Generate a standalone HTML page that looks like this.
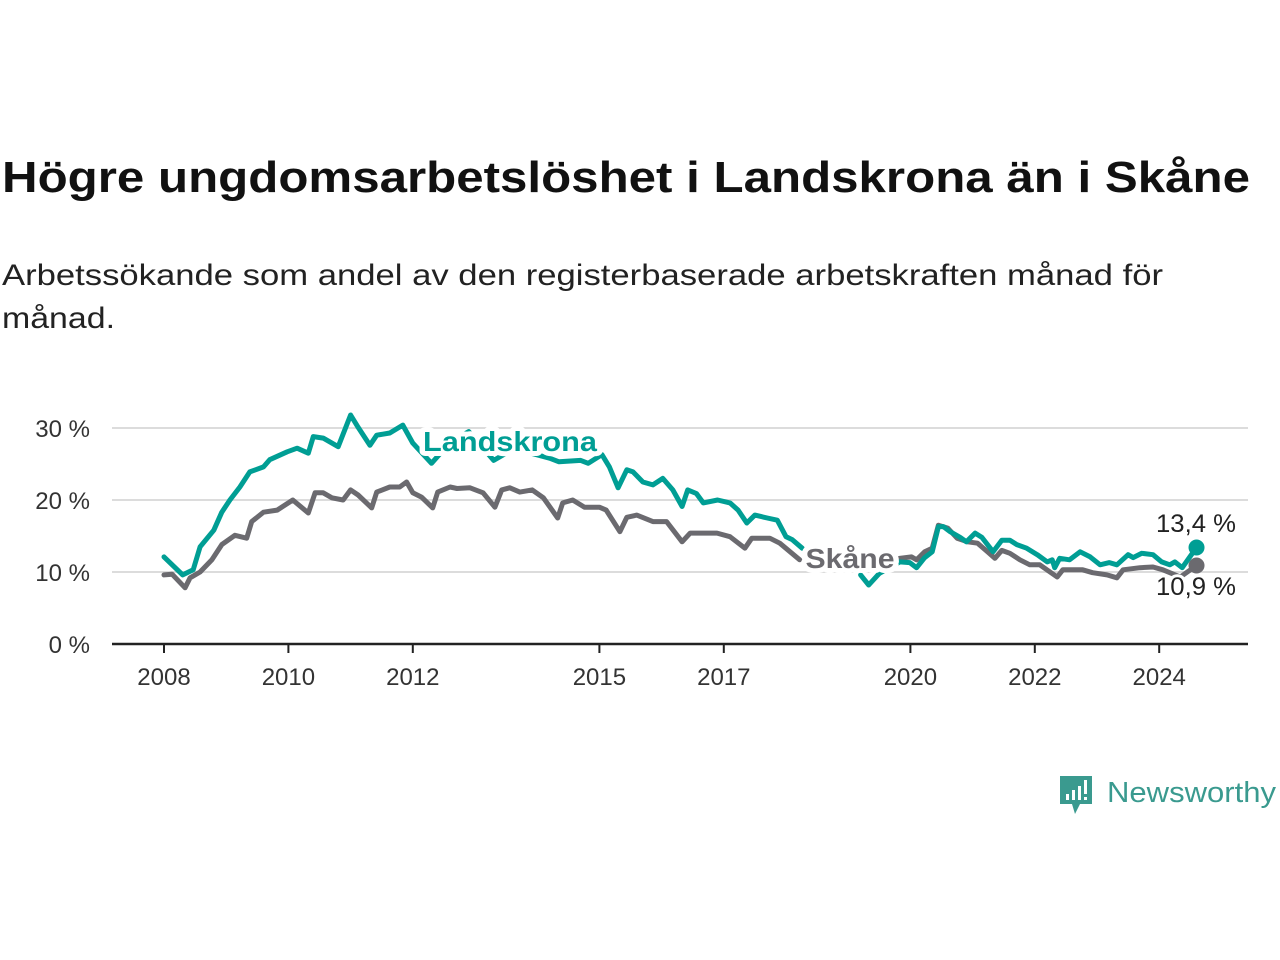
<!DOCTYPE html>
<html><head><meta charset="utf-8">
<style>
html,body{margin:0;padding:0;background:#fff;}
svg{display:block;font-family:"Liberation Sans","DejaVu Sans",sans-serif;}
</style></head>
<body>
<svg id="chart" width="1280" height="960" viewBox="0 0 1280 960">
  <text x="2" y="192" font-size="44" font-weight="bold" fill="#111" textLength="1248" lengthAdjust="spacingAndGlyphs">Högre ungdomsarbetslöshet i Landskrona än i Skåne</text>
  <text x="2" y="285" font-size="30" fill="#222" textLength="1161" lengthAdjust="spacingAndGlyphs">Arbetssökande som andel av den registerbaserade arbetskraften månad för</text>
  <text x="2" y="328" font-size="30" fill="#222" textLength="113" lengthAdjust="spacingAndGlyphs">månad.</text>
  <g id="grid"></g>
  <g id="axes"></g>
  <g id="lines"></g>
  <g id="labels"></g>
  <g>
    <path d="M1060 776 h32 v28 h-12 l-5 10 l-3 -10 h-12 z" fill="#3a9a8f"/>
    <rect x="1066" y="794" width="3" height="6" fill="#fff"/>
    <rect x="1072" y="790" width="3" height="10" fill="#fff"/>
    <rect x="1078" y="786" width="3" height="14" fill="#fff"/>
    <rect x="1084" y="780" width="3" height="14" fill="#fff"/>
    <rect x="1084" y="797" width="3" height="3" fill="#fff"/>
    <text x="1107" y="802" font-size="29" fill="#3a9a8f" textLength="169" lengthAdjust="spacingAndGlyphs">Newsworthy</text>
  </g>
</svg>
<script>
const yTicks = [0, 10, 20, 30];
const yTickLabels = ["0 %", "10 %", "20 %", "30 %"];
const xTicks = [2008, 2010, 2012, 2015, 2017, 2020, 2022, 2024];
const xTickLabels = ["2008", "2010", "2012", "2015", "2017", "2020", "2022", "2024"];

const landskronaYears = [2008.0,2008.3,2008.47,2008.58,2008.8,2008.93,2009.06,2009.22,2009.38,2009.6,2009.7,2009.98,2010.14,2010.32,2010.4,2010.56,2010.8,2011.0,2011.12,2011.31,2011.42,2011.63,2011.84,2012.0,2012.3,2012.6,2012.9,2013.3,2013.6,2013.9,2014.2,2014.35,2014.7,2014.82,2015.04,2015.16,2015.3,2015.44,2015.54,2015.7,2015.86,2016.02,2016.18,2016.33,2016.42,2016.56,2016.67,2016.9,2017.1,2017.23,2017.37,2017.5,2017.7,2017.86,2018.0,2018.1,2018.26,2019.2,2019.33,2019.5,2019.83,2019.99,2020.1,2020.23,2020.35,2020.45,2020.53,2020.64,2020.8,2020.9,2021.04,2021.15,2021.33,2021.47,2021.6,2021.71,2021.87,2022.04,2022.2,2022.28,2022.32,2022.4,2022.56,2022.73,2022.89,2023.05,2023.2,2023.32,2023.5,2023.58,2023.72,2023.9,2024.04,2024.17,2024.25,2024.37,2024.6];
const landskronaValues = [12.1,9.6,10.3,13.5,15.8,18.3,20,21.8,23.9,24.6,25.6,26.7,27.2,26.5,28.8,28.6,27.4,31.8,30.1,27.6,29,29.3,30.4,27.9,25.1,28,29.5,25.5,27,26.5,25.8,25.3,25.5,25.1,26.3,24.6,21.7,24.2,23.9,22.5,22.1,23,21.4,19.1,21.4,20.9,19.6,20,19.6,18.6,16.8,17.9,17.5,17.2,14.9,14.5,13.3,9.6,8.2,9.8,11.4,11.3,10.6,12,12.8,16.3,16.3,15.6,14.8,14.2,15.4,14.8,12.8,14.4,14.4,13.8,13.3,12.4,11.4,11.7,10.6,11.9,11.7,12.8,12.1,11,11.3,11,12.4,12,12.6,12.4,11.4,11,11.4,10.6,13.4];

const skaneYears = [2008.0,2008.13,2008.34,2008.42,2008.58,2008.77,2008.93,2009.14,2009.33,2009.41,2009.6,2009.82,2010.07,2010.32,2010.43,2010.56,2010.7,2010.88,2011.0,2011.12,2011.34,2011.42,2011.63,2011.79,2011.9,2012.0,2012.14,2012.32,2012.4,2012.6,2012.71,2012.92,2013.13,2013.32,2013.43,2013.56,2013.72,2013.92,2014.1,2014.33,2014.41,2014.57,2014.76,2015.0,2015.11,2015.33,2015.44,2015.6,2015.86,2016.08,2016.33,2016.46,2016.67,2016.89,2017.1,2017.34,2017.45,2017.74,2017.9,2018.22,2019.4,2019.83,2020.02,2020.1,2020.23,2020.35,2020.45,2020.6,2020.75,2020.92,2021.08,2021.24,2021.36,2021.47,2021.6,2021.76,2021.92,2022.08,2022.36,2022.45,2022.77,2022.93,2023.16,2023.32,2023.42,2023.69,2023.9,2024.06,2024.34,2024.6];
const skaneValues = [9.6,9.7,7.8,9.2,10,11.7,13.8,15.1,14.7,17,18.3,18.6,20,18.2,21,21,20.3,20,21.4,20.7,18.9,21.1,21.8,21.8,22.5,21,20.4,18.9,21.1,21.8,21.6,21.7,21,19,21.4,21.7,21.1,21.4,20.3,17.5,19.6,20,19,19,18.6,15.6,17.6,17.9,17,17,14.2,15.4,15.4,15.4,14.9,13.3,14.7,14.7,14,11.7,11.2,11.9,12.1,11.7,12.8,13.3,16.5,16.1,14.7,14.2,14,12.8,11.9,13,12.6,11.7,11,11,9.3,10.3,10.3,9.9,9.6,9.2,10.3,10.6,10.7,10.3,9.3,10.9];

const NS = "http://www.w3.org/2000/svg";
const X0 = 164, PXY = 62.2, Y0 = 644, PXV = 7.2;
function xScale(yr){ return X0 + (yr - 2008) * PXY; }
function yScale(v){ return Y0 - v * PXV; }
function mk(tag, attrs, parent){
  const el = document.createElementNS(NS, tag);
  for (const k in attrs) el.setAttribute(k, attrs[k]);
  parent.appendChild(el);
  return el;
}
const grid = document.getElementById('grid');
const axes = document.getElementById('axes');
const lines = document.getElementById('lines');
const labels = document.getElementById('labels');

yTicks.forEach((t, i) => {
  if (t > 0) {
    const g = mk('line', {x1:112, x2:1248, y1:yScale(t), y2:yScale(t), stroke:'#dcdcdc', 'stroke-width':2}, grid);
    
    
  }
  const tx = mk('text', {x:90, y:yScale(t)+9, 'font-size':24, fill:'#333', 'text-anchor':'end'}, axes);
  tx.textContent = yTickLabels[i];
  
  
});
const ax = mk('line', {x1:112, x2:1248, y1:Y0, y2:Y0, stroke:'#222', 'stroke-width':2.5}, axes);


xTicks.forEach((t, i) => {
  const tk = mk('line', {x1:xScale(t), x2:xScale(t), y1:Y0, y2:Y0+9, stroke:'#222', 'stroke-width':2}, axes);
  
  
  const tx = mk('text', {x:xScale(t), y:685, 'font-size':24, fill:'#333', 'text-anchor':'middle'}, axes);
  tx.textContent = xTickLabels[i];
  
  
});

function drawLine(xs, vs, color, name){
  let d = '';
  xs.forEach((x, i) => {
    const gap = i === 0 || (x - xs[i-1]) > 0.6;
    d += (gap ? 'M' : 'L') + xScale(x).toFixed(1) + ' ' + yScale(vs[i]).toFixed(1) + ' ';
  });
  const p = mk('path', {d:d, fill:'none', stroke:color, 'stroke-width':5, 'stroke-linejoin':'round', 'stroke-linecap':'round'}, lines);
  
  
  const n = xs.length - 1;
  const c = mk('circle', {cx:xScale(xs[n]), cy:yScale(vs[n]), r:8, fill:color}, lines);
  
  
}
drawLine(skaneYears, skaneValues, '#6b6a6f', 'skane');
drawLine(landskronaYears, landskronaValues, '#009e94', 'landskrona');

function label(txt, x, y, color, name, bold, anchor, len){
  const t = mk('text', {x:x, y:y, 'font-size': bold ? 28 : 25, 'font-weight': bold ? 'bold' : 'normal', fill:color, 'text-anchor':anchor, stroke:'#fff', 'stroke-width': bold ? 10 : 6, 'paint-order':'stroke', 'stroke-linejoin':'round', textLength:len, lengthAdjust:'spacingAndGlyphs'}, labels);
  t.textContent = txt;
  
  
}
label('Landskrona', 510, 451, '#009e94', 'landskrona-label', true, 'middle', 174);
label('Skåne', 850, 568, '#6b6a6f', 'skane-label', true, 'middle', 89);
const nL = landskronaValues.length - 1, nS = skaneValues.length - 1;
label(landskronaValues[nL].toFixed(1).replace('.', ',') + ' %', 1196, 532, '#222', 'landskrona-end-value', false, 'middle', 80);
label(skaneValues[nS].toFixed(1).replace('.', ',') + ' %', 1196, 595, '#222', 'skane-end-value', false, 'middle', 80);
</script>
</body></html>
